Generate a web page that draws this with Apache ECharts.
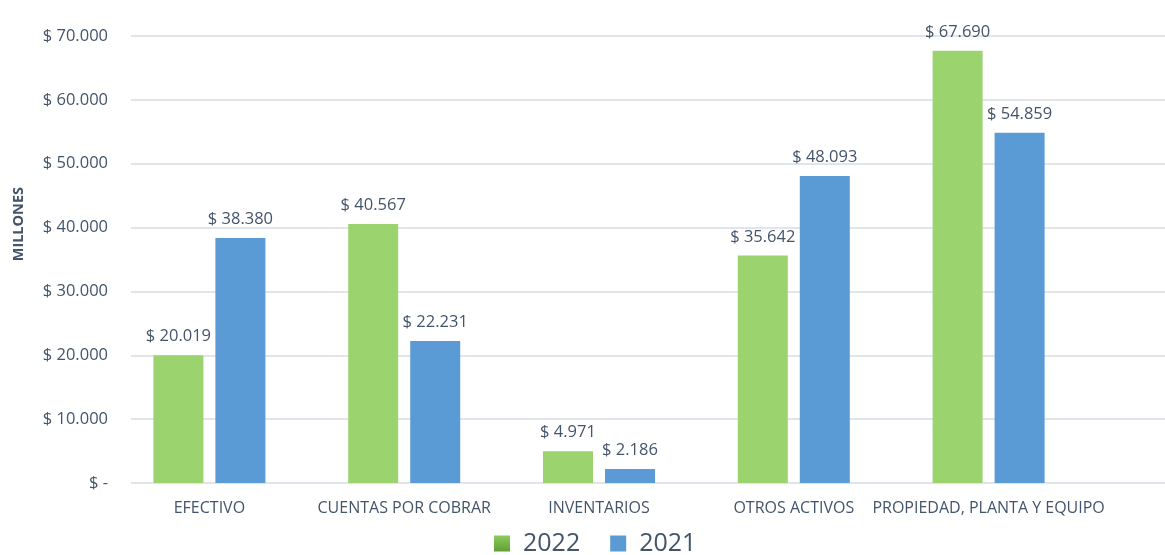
<!DOCTYPE html>
<html>
<head>
<meta charset="utf-8">
<script src="https://cdn.jsdelivr.net/npm/echarts@6/dist/echarts.min.js"></script>
<style>
  html, body { margin: 0; padding: 0; background: #fff; }
  #chart-container { width: 1165px; height: 555px; }
</style>
</head>
<body>
<div id="chart-container"></div>
<script>
var categories = ['EFECTIVO', 'CUENTAS POR COBRAR', 'INVENTARIOS', 'OTROS ACTIVOS', 'PROPIEDAD, PLANTA Y EQUIPO'];
var values2022 = [20019, 40567, 4971, 35642, 67690];
var values2021 = [38380, 22231, 2186, 48093, 54859];
var yTicks = [0, 10000, 20000, 30000, 40000, 50000, 60000, 70000];

var dom = document.getElementById('chart-container');
var myChart = echarts.init(dom, null, { renderer: 'canvas' });

var textColor = '#44546a';
var font = 'Open Sans';

function money(v) {
  if (v === 0) return '$ -';
  return '$ ' + String(v).replace(/\B(?=(\d{3})+(?!\d))/g, '.');
}

var option = {
  animation: false,
  textStyle: { fontFamily: font },
  legend: {
    bottom: -6,
    left: 489,
    icon: 'rect',
    itemWidth: 16,
    itemHeight: 16,
    itemGap: 30,
    textStyle: { fontSize: 25, color: textColor, fontFamily: font, padding: [0, 0, 0, 8] },
    data: [
      { name: '2022', itemStyle: { color: new echarts.graphic.LinearGradient(0, 0, 0, 1, [{ offset: 0, color: '#8ccc5c' }, { offset: 1, color: '#5fa035' }]) } },
      { name: '2021', itemStyle: { color: '#5b9bd5' } }
    ]
  },
  graphic: [{
    type: 'text',
    left: 11,
    top: 187,
    rotation: Math.PI / 2,
    style: { text: 'MILLONES', fontSize: 14.5, fontWeight: 'bold', fill: textColor, fontFamily: font }
  }],
  grid: [
    { left: 131, right: 0, top: 36, bottom: 72 },
    { left: 112, right: 79, top: 36, bottom: 72 }
  ],
  xAxis: [
    { type: 'category', gridIndex: 0, data: categories, show: false },
    {
      type: 'category', gridIndex: 1, data: categories,
      axisLine: { show: false }, axisTick: { show: false },
      axisLabel: { color: textColor, fontSize: 16, margin: 17, interval: 0 }
    }
  ],
  yAxis: [
    {
      type: 'value', gridIndex: 0, min: 0, max: 70000, interval: 10000,
      axisLine: { show: false }, axisTick: { show: false },
      axisLabel: { color: textColor, fontSize: 16.5, margin: 23, formatter: money },
      splitLine: { lineStyle: { color: '#e1e5eb', width: 2 } }
    },
    {
      type: 'value', gridIndex: 1, min: 0, max: 70000, interval: 10000,
      show: false, splitLine: { show: false }
    }
  ],
  series: [
    {
      name: '2022', type: 'bar', xAxisIndex: 1, yAxisIndex: 1,
      data: values2022, barWidth: 50, barGap: '24%',
      itemStyle: { color: '#9bd46f' },
      label: { show: true, position: 'top', distance: 10, color: textColor, fontSize: 16.5, formatter: function (p) { return money(p.value); } }
    },
    {
      name: '2021', type: 'bar', xAxisIndex: 1, yAxisIndex: 1,
      data: values2021, barWidth: 50, barGap: '24%',
      itemStyle: { color: '#5b9bd5' },
      label: { show: true, position: 'top', distance: 10, color: textColor, fontSize: 16.5, formatter: function (p) { return money(p.value); } }
    }
  ]
};

myChart.setOption(option);
window.addEventListener('resize', myChart.resize);
</script>
</body>
</html>
